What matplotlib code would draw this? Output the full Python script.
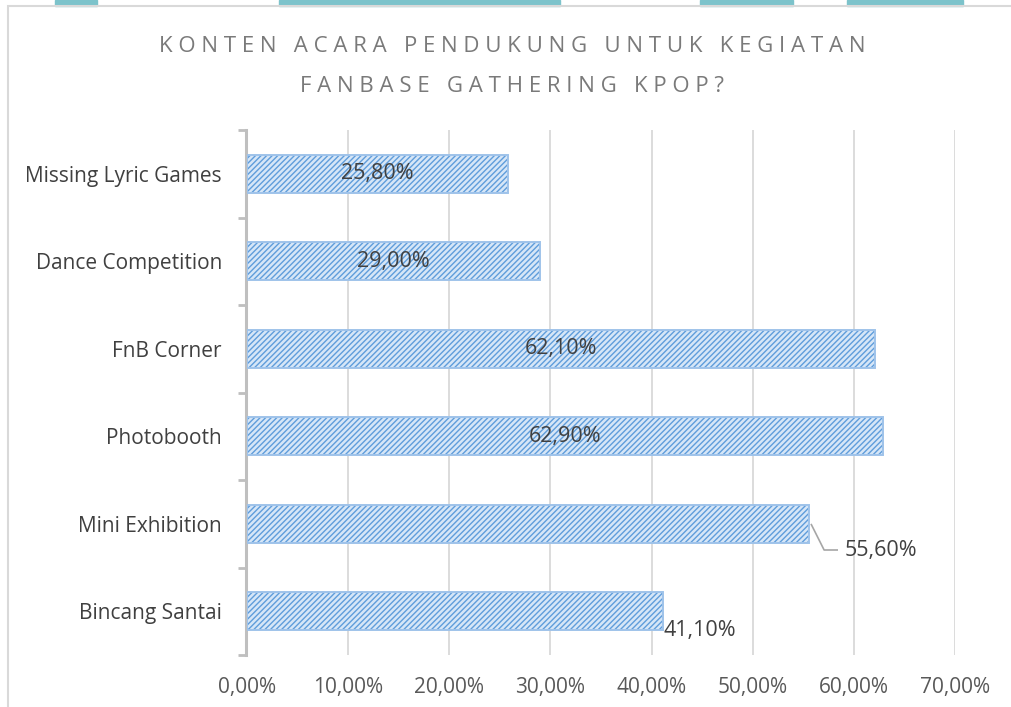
import matplotlib
matplotlib.use('Agg')
import matplotlib.pyplot as plt
from matplotlib.patches import Rectangle
from matplotlib.ticker import FixedLocator

plt.rcParams['font.family'] = ['Open Sans', 'DejaVu Sans']
plt.rcParams['hatch.linewidth'] = 1.0

# data (top to bottom as in the chart)
kategori = ['Missing Lyric Games', 'Dance Competition', 'FnB Corner',
            'Photobooth', 'Mini Exhibition', 'Bincang Santai']
nilai = [25.8, 29.0, 62.1, 62.9, 55.6, 41.1]
label_nilai = ['25,80%', '29,00%', '62,10%', '62,90%', '55,60%', '41,10%']
xticks = [0, 10, 20, 30, 40, 50, 60, 70]
judul = ['KONTEN ACARA PENDUKUNG UNTUK KEGIATAN', 'FANBASE GATHERING KPOP?']

W, H = 1011, 707
fig = plt.figure(figsize=(W / 100, H / 100), dpi=100)

# background decoration: teal strip on top and the chart frame
for x0, x1 in [(55, 97), (279, 560), (700, 793), (847, 963)]:
    fig.patches.append(Rectangle((x0 / W, 1 - 6 / H), (x1 - x0) / W, 6 / H,
                                 transform=fig.transFigure, color='#7cc3cb', zorder=0))
fig.patches.append(Rectangle((8 / W, -0.05), 1.1, 1 - 6 / H + 0.05, transform=fig.transFigure,
                             fill=False, edgecolor='#d9d9d9', lw=1.5, zorder=0))

ax = fig.add_axes([247 / W, 1 - 655 / H, 708 / W, 525 / H])
ax.set_facecolor('none')
ax.set_zorder(2)

y = list(range(len(kategori)))
ax.barh(y, nilai, height=0.43, color='#d6e6f7', edgecolor='#5f9ddb', hatch='//////', lw=0, zorder=3)
ax.barh(y, nilai, height=0.43, fill=False, edgecolor='#9fc3ea', lw=1.4, zorder=4)

ax.set_xlim(0, 70)
ax.set_ylim(5.5, -0.5)
ax.xaxis.set_major_locator(FixedLocator(xticks))
ax.xaxis.set_major_formatter(lambda v, p: f'{v:.2f}%'.replace('.', ','))
ax.grid(axis='x', color='#d9d9d9', lw=1.3, zorder=0)
ax.set_axisbelow(True)
ax.tick_params(axis='x', length=0, pad=16, labelsize=15, labelcolor='#595959')

ax.set_yticks(y)
ax.set_yticklabels(kategori)
ax.tick_params(axis='y', which='major', length=0, pad=17, labelsize=15, labelcolor='#404040')
ax.set_yticks([i - 0.5 for i in range(len(kategori) + 1)], minor=True)
ax.tick_params(axis='y', which='minor', length=6, width=2, color='#bfbfbf')

for s in ['top', 'right', 'bottom']:
    ax.spines[s].set_visible(False)
ax.spines['left'].set_color('#bfbfbf')
ax.spines['left'].set_linewidth(2.2)
ax.spines['left'].set_position(('outward', 1))

# data labels
for i, (v, t) in enumerate(zip(nilai, label_nilai)):
    if i < 4:
        ax.text(v / 2, i, t, ha='center', va='center', fontsize=15.5, color='#404040', zorder=5)
    elif i == 4:
        ax.plot([v + 0.2, v + 1.46, v + 2.75], [i + 0.01, i + 0.3, i + 0.3],
                color='#a6a6a6', lw=1.2, zorder=5)
        ax.text(v + 3.44, i + 0.31, t, ha='left', va='center', fontsize=15.5, color='#404040', zorder=5)
    else:
        ax.text(v + 0.07, i + 0.215, t, ha='left', va='center', fontsize=15.5, color='#404040', zorder=5)

# title with letter spacing
for line, yy in zip(judul, [47, 87]):
    spaced = '   '.join(' '.join(w) for w in line.split(' '))
    fig.text(512 / W, 1 - yy / H, spaced, ha='center', va='center', fontsize=16,
             color='#7a7a7a')

fig.savefig('out.png', dpi=100)
